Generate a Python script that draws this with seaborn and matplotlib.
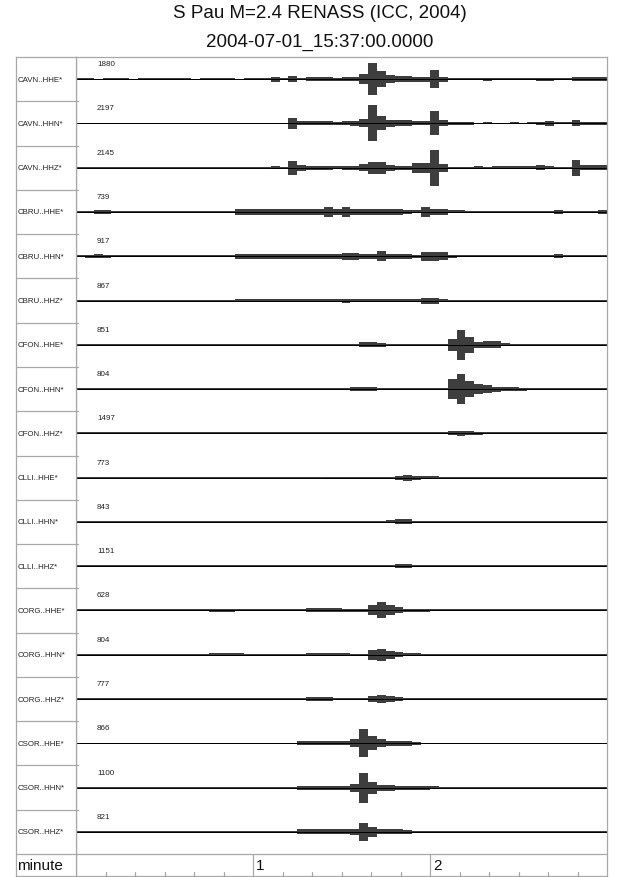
import numpy as np
import pandas as pd
import matplotlib
matplotlib.use("Agg")
import matplotlib.pyplot as plt
import seaborn as sns

sns.set_theme(style="white")
plt.rcParams['font.family'] = ['Liberation Sans', 'DejaVu Sans']

TITLE_1 = "S Pau M=2.4 RENASS (ICC, 2004)"
TITLE_2 = "2004-07-01_15:37:00.0000"
X_LABEL = "minute"
MINUTE_LABELS = ["1", "2"]

stations = ["CAVN..HHE*", "CAVN..HHN*", "CAVN..HHZ*",
            "CBRU..HHE*", "CBRU..HHN*", "CBRU..HHZ*",
            "CFON..HHE*", "CFON..HHN*", "CFON..HHZ*",
            "CLLI..HHE*", "CLLI..HHN*", "CLLI..HHZ*",
            "CORG..HHE*", "CORG..HHN*", "CORG..HHZ*",
            "CSOR..HHE*", "CSOR..HHN*", "CSOR..HHZ*"]
peak_counts = [1880, 2197, 2145, 739, 917, 867, 851, 804, 1497,
               773, 843, 1151, 628, 804, 777, 866, 1100, 821]

BIN_SECONDS = 3          # envelope read in 3-second bins, 0..180 s
# half-amplitude envelopes (screen-pixel scale)
env_cavn_hhe = [0.7, 0.7, 0.6, 0.7, 0.7, 0.7, 0.6, 0.7, 0.7, 0.7,
                0.7, 0.7, 0.7, 0.6, 0.7, 0.7, 0.7, 0.7, 0.6, 0.7,
                0.7, 0.8, 2.5, 0.8, 3.0, 1.2, 1.8, 1.8, 1.7, 1.6,
                1.7, 1.8, 5.0, 16.0, 8.0, 4.0, 3.2, 3.0, 2.5, 2.5,
                9.0, 2.5, 1.3, 1.2, 1.0, 0.9, 1.5, 1.0, 0.9, 1.0,
                1.0, 1.2, 1.5, 1.5, 1.0, 1.0, 2.0, 2.0, 2.0, 1.7]
env_cavn_hhn = [0.7, 0.7, 0.7, 0.7, 0.7, 0.7, 0.7, 0.7, 0.7, 0.7,
                0.7, 0.7, 0.7, 0.7, 0.7, 0.7, 0.7, 0.7, 0.7, 0.7,
                0.7, 0.7, 0.7, 0.7, 5.5, 2.0, 2.0, 2.0, 2.0, 1.9,
                2.0, 2.2, 4.0, 18.0, 7.0, 3.5, 3.0, 3.0, 2.0, 2.0,
                12.0, 3.0, 1.2, 1.2, 1.1, 0.9, 1.0, 0.9, 0.9, 1.0,
                0.9, 1.0, 1.1, 2.5, 1.0, 1.0, 3.0, 1.4, 1.4, 1.3]
env_cavn_hhz = [0.7, 0.7, 0.7, 0.7, 0.7, 0.7, 0.7, 0.7, 0.7, 0.7,
                0.7, 0.7, 0.7, 0.7, 0.7, 0.7, 0.7, 0.7, 0.7, 0.7,
                0.7, 0.7, 1.5, 0.8, 7.0, 3.0, 2.0, 2.0, 2.0, 1.8,
                2.0, 2.0, 3.5, 6.0, 6.0, 3.0, 2.0, 2.0, 5.0, 5.0,
                18.0, 4.0, 1.0, 1.0, 1.0, 1.2, 1.1, 1.2, 1.2, 1.3,
                1.2, 1.8, 2.5, 1.8, 1.0, 1.0, 8.0, 2.5, 2.5, 2.2]
env_cbru_hhe = [1.2, 1.2, 1.6, 2.3, 1.0, 1.0, 1.0, 1.0, 1.1, 1.0,
                1.0, 1.2, 1.0, 1.0, 1.0, 1.0, 1.1, 1.0, 2.6, 2.8,
                2.7, 2.8, 2.6, 2.7, 2.8, 2.7, 2.6, 2.8, 5.0, 3.0,
                5.0, 2.7, 2.7, 2.7, 2.7, 3.0, 2.7, 2.0, 1.5, 5.0,
                3.0, 3.0, 1.5, 1.5, 1.2, 1.2, 1.0, 1.0, 1.0, 1.0,
                1.0, 1.0, 1.0, 1.0, 2.0, 1.0, 1.0, 1.0, 1.0, 2.0]
env_cbru_hhn = [1.1, 1.3, 1.8, 1.5, 1.0, 1.0, 1.0, 1.0, 1.0, 1.0,
                1.0, 1.0, 1.0, 1.0, 1.0, 1.0, 1.0, 1.0, 2.3, 2.3,
                2.3, 2.3, 2.3, 2.3, 2.3, 2.3, 2.3, 2.3, 2.3, 2.3,
                3.5, 3.5, 2.5, 2.5, 5.0, 2.3, 2.3, 2.3, 1.5, 4.5,
                4.5, 4.0, 1.5, 1.0, 1.0, 1.0, 1.0, 1.0, 1.0, 1.0,
                1.0, 1.0, 1.0, 1.0, 1.8, 1.0, 1.0, 1.0, 1.0, 1.0]
env_cbru_hhz = [1.0, 1.0, 1.0, 1.0, 1.0, 1.0, 1.0, 1.0, 1.0, 1.0,
                1.0, 1.0, 1.0, 1.0, 1.0, 1.0, 1.0, 1.0, 1.5, 1.5,
                1.5, 1.5, 1.5, 1.5, 1.5, 1.5, 1.5, 1.5, 1.5, 1.5,
                2.0, 1.5, 1.5, 1.5, 1.5, 1.5, 1.5, 1.5, 1.3, 3.0,
                3.0, 1.5, 1.0, 1.0, 1.0, 1.0, 1.0, 1.0, 1.0, 1.0,
                1.0, 1.0, 1.0, 1.0, 1.0, 1.0, 1.0, 1.0, 1.0, 1.0]
env_cfon_hhe = [1.0, 1.0, 1.0, 1.0, 1.0, 1.0, 1.0, 1.0, 1.0, 1.0,
                1.0, 1.0, 1.0, 1.0, 1.0, 1.0, 1.0, 1.0, 1.0, 1.0,
                1.0, 1.0, 1.0, 1.0, 1.0, 1.0, 1.0, 1.0, 1.0, 1.0,
                1.0, 1.0, 2.5, 2.5, 2.2, 1.3, 1.3, 1.3, 1.3, 1.3,
                1.3, 1.3, 6.0, 15.0, 8.0, 3.0, 3.5, 3.5, 1.5, 1.0,
                1.0, 1.0, 1.0, 1.0, 1.0, 1.0, 1.0, 1.0, 1.0, 1.0]
env_cfon_hhn = [1.0, 1.0, 1.0, 1.0, 1.0, 1.0, 1.0, 1.0, 1.0, 1.0,
                1.0, 1.0, 1.0, 1.0, 1.0, 1.0, 1.0, 1.0, 1.0, 1.0,
                1.0, 1.0, 1.0, 1.0, 1.0, 1.0, 1.0, 1.0, 1.0, 1.0,
                1.0, 2.0, 2.0, 2.0, 1.2, 1.2, 1.2, 1.2, 1.2, 1.2,
                1.2, 1.2, 10.0, 15.0, 8.0, 5.0, 4.0, 2.5, 2.0, 2.0,
                1.5, 1.2, 1.2, 1.0, 1.0, 1.0, 1.0, 1.0, 1.0, 1.0]
env_cfon_hhz = [1.0, 1.0, 1.0, 1.0, 1.0, 1.0, 1.0, 1.0, 1.0, 1.0,
                1.0, 1.0, 1.0, 1.0, 1.0, 1.0, 1.0, 1.0, 1.0, 1.0,
                1.0, 1.0, 1.0, 1.0, 1.0, 1.0, 1.0, 1.0, 1.0, 1.0,
                1.0, 1.0, 1.0, 1.0, 1.0, 1.0, 1.0, 1.0, 1.0, 1.0,
                1.0, 1.0, 2.0, 2.5, 2.0, 1.8, 1.0, 1.0, 1.0, 1.0,
                1.0, 1.0, 1.0, 1.0, 1.0, 1.0, 1.0, 1.0, 1.0, 1.0]
env_clli_hhe = [0.7, 0.7, 0.7, 0.7, 0.7, 0.7, 0.7, 0.7, 0.7, 0.7,
                0.7, 0.7, 0.7, 0.7, 0.7, 0.7, 0.7, 0.7, 0.7, 0.7,
                0.7, 0.7, 0.7, 0.7, 0.7, 0.7, 0.7, 0.7, 1.0, 1.0,
                1.0, 1.0, 1.0, 1.0, 1.0, 1.0, 2.0, 3.0, 2.0, 1.2,
                1.2, 0.7, 0.7, 0.7, 0.7, 0.7, 0.7, 0.7, 0.7, 0.7,
                0.7, 0.7, 0.7, 0.7, 0.7, 0.7, 0.7, 0.7, 0.7, 0.7]
env_clli_hhn = [0.7, 0.7, 0.7, 0.7, 0.7, 0.7, 0.7, 0.7, 0.7, 0.7,
                0.7, 0.7, 0.7, 0.7, 0.7, 0.7, 0.7, 0.7, 0.7, 0.7,
                0.7, 0.7, 0.7, 0.7, 0.7, 0.7, 0.7, 0.7, 0.7, 0.7,
                0.9, 0.9, 0.9, 0.9, 0.9, 1.5, 2.5, 2.5, 1.3, 0.7,
                0.7, 0.7, 0.7, 0.7, 0.7, 0.7, 0.7, 0.7, 0.7, 0.7,
                0.7, 0.7, 0.7, 0.7, 0.7, 0.7, 0.7, 0.7, 0.7, 0.7]
env_clli_hhz = [0.8, 0.8, 0.8, 0.8, 0.8, 0.8, 0.8, 0.8, 0.8, 0.8,
                0.8, 0.8, 0.8, 0.8, 0.8, 0.8, 0.8, 0.8, 0.8, 0.8,
                0.8, 0.8, 0.8, 0.8, 0.8, 0.8, 0.8, 0.8, 0.8, 0.8,
                0.8, 0.8, 0.8, 0.8, 0.8, 0.8, 1.7, 1.7, 0.8, 0.8,
                0.8, 0.8, 0.8, 0.8, 0.8, 0.8, 0.8, 0.8, 0.8, 0.8,
                0.8, 0.8, 0.8, 0.8, 0.8, 0.8, 0.8, 0.8, 0.8, 0.8]
env_corg_hhe = [1.0, 1.0, 1.0, 1.0, 1.0, 1.0, 1.0, 1.0, 1.0, 1.0,
                1.0, 1.0, 1.0, 1.0, 1.0, 1.2, 1.2, 1.2, 1.0, 1.0,
                1.0, 1.0, 1.0, 1.0, 1.0, 1.0, 2.0, 2.0, 2.0, 2.0,
                1.2, 1.2, 1.2, 5.0, 8.0, 5.0, 3.0, 1.5, 1.5, 1.5,
                1.0, 1.0, 1.0, 1.0, 1.0, 1.0, 1.0, 1.0, 1.0, 1.0,
                1.0, 1.0, 1.0, 1.0, 1.0, 1.0, 1.0, 1.0, 1.0, 1.0]
env_corg_hhn = [1.0, 1.0, 1.0, 1.0, 1.0, 1.0, 1.0, 1.0, 1.0, 1.0,
                1.0, 1.0, 1.0, 1.0, 1.0, 1.3, 1.3, 1.3, 1.3, 1.0,
                1.0, 1.0, 1.0, 1.0, 1.0, 1.0, 1.5, 1.5, 1.5, 1.5,
                1.5, 1.2, 1.2, 5.0, 6.0, 4.0, 2.5, 1.5, 1.5, 1.0,
                1.0, 1.0, 1.0, 1.0, 1.0, 1.0, 1.0, 1.0, 1.0, 1.0,
                1.0, 1.0, 1.0, 1.0, 1.0, 1.0, 1.0, 1.0, 1.0, 1.0]
env_corg_hhz = [1.0, 1.0, 1.0, 1.0, 1.0, 1.0, 1.0, 1.0, 1.0, 1.0,
                1.0, 1.0, 1.0, 1.0, 1.0, 1.0, 1.0, 1.0, 1.0, 1.0,
                1.0, 1.0, 1.0, 1.0, 1.0, 1.0, 2.0, 2.0, 2.0, 1.2,
                1.2, 1.2, 1.2, 3.0, 4.0, 3.0, 2.0, 1.0, 1.0, 1.0,
                1.0, 1.0, 1.0, 1.0, 1.0, 1.0, 1.0, 1.0, 1.0, 1.0,
                1.0, 1.0, 1.0, 1.0, 1.0, 1.0, 1.0, 1.0, 1.0, 1.0]
env_csor_hhe = [0.8, 0.8, 0.8, 0.8, 0.8, 0.8, 0.8, 0.8, 0.8, 0.8,
                0.8, 0.8, 0.8, 0.8, 0.8, 0.8, 0.8, 0.8, 0.8, 0.8,
                0.8, 0.8, 0.8, 0.8, 0.8, 2.0, 2.0, 2.0, 2.0, 2.0,
                2.0, 4.0, 14.0, 7.0, 4.0, 2.3, 2.3, 2.3, 1.3, 0.8,
                0.8, 0.8, 0.8, 0.8, 0.8, 0.8, 0.8, 0.8, 0.8, 0.8,
                0.8, 0.8, 0.8, 0.8, 0.8, 0.8, 0.8, 0.8, 0.8, 0.8]
env_csor_hhn = [0.8, 0.8, 0.8, 0.8, 0.8, 0.8, 0.8, 0.8, 0.8, 0.8,
                0.8, 0.8, 0.8, 0.8, 0.8, 0.8, 0.8, 0.8, 0.8, 0.8,
                0.8, 0.8, 0.8, 0.8, 0.8, 2.0, 2.0, 2.0, 2.0, 2.0,
                2.0, 4.0, 15.0, 6.0, 3.0, 3.0, 2.0, 2.0, 2.0, 2.0,
                1.2, 0.8, 0.8, 0.8, 0.8, 0.8, 0.8, 0.8, 0.8, 0.8,
                0.8, 0.8, 0.8, 0.8, 0.8, 0.8, 0.8, 0.8, 0.8, 0.8]
env_csor_hhz = [0.8, 0.8, 0.8, 0.8, 0.8, 0.8, 0.8, 0.8, 0.8, 0.8,
                0.8, 0.8, 0.8, 0.8, 0.8, 0.8, 0.8, 0.8, 0.8, 0.8,
                0.8, 0.8, 0.8, 0.8, 0.8, 2.5, 2.5, 2.5, 2.5, 2.5,
                2.5, 3.0, 9.0, 5.0, 2.5, 2.5, 2.5, 1.8, 1.2, 0.8,
                0.8, 0.8, 0.8, 0.8, 0.8, 0.8, 0.8, 0.8, 0.8, 0.8,
                0.8, 0.8, 0.8, 0.8, 0.8, 0.8, 0.8, 0.8, 0.8, 0.8]

envelopes = [env_cavn_hhe, env_cavn_hhn, env_cavn_hhz,
             env_cbru_hhe, env_cbru_hhn, env_cbru_hhz,
             env_cfon_hhe, env_cfon_hhn, env_cfon_hhz,
             env_clli_hhe, env_clli_hhn, env_clli_hhz,
             env_corg_hhe, env_corg_hhn, env_corg_hhz,
             env_csor_hhe, env_csor_hhn, env_csor_hhz]

# ---------------- layout (pixels of the 640x878 canvas) ----------------
W, H = 640, 878
PX_LEFT, PX_COL, PX_RIGHT = 15.5, 76, 607
PX_TOP, PX_SEP, PX_BOT = 58, 855, 877
GRID = "#a8a8a8"

def fx(p):
    return p / W

def fy(p):
    return 1 - p / H

fig = plt.figure(figsize=(6.4, 8.78), dpi=100)
fig.patch.set_facecolor("white")

n = len(stations)
row_h = (PX_SEP - PX_TOP) / n
total_h = PX_BOT - PX_TOP
t_max = BIN_SECONDS * len(envelopes[0])

ax = fig.add_axes([fx(PX_COL), fy(PX_BOT), fx(PX_RIGHT) - fx(PX_COL),
                   fy(PX_TOP) - fy(PX_BOT)])
axl = fig.add_axes([fx(PX_LEFT), fy(PX_BOT), fx(PX_COL) - fx(PX_LEFT),
                    fy(PX_TOP) - fy(PX_BOT)])

for a in (ax, axl):
    a.set_ylim(total_h, 0)
    a.set_xticks([])
    a.set_yticks([])
    a.set_facecolor("white")
    for s in a.spines.values():
        s.set_color(GRID)
        s.set_linewidth(0.9)
        s.set_visible(True)
ax.set_xlim(0, t_max)
axl.set_xlim(0, 1)

for i, (name, cnt, env) in enumerate(zip(stations, peak_counts, envelopes)):
    base = row_h * (i + 0.5)
    env = np.asarray(env, dtype=float)
    edges = np.arange(len(env) + 1) * BIN_SECONDS
    amp = np.r_[env, env[-1]]
    ax.fill_between(edges, base - amp, base + amp, step="post",
                    color="#1c1c1c", linewidth=0, alpha=0.85)
    df = pd.DataFrame({"t": edges, "y": np.full(len(edges), base)})
    sns.lineplot(data=df, x="t", y="y", ax=ax, color="black",
                 linewidth=0.7, legend=False)
    ax.text((97 - PX_COL) / (PX_RIGHT - PX_COL) * t_max, base - 15.5,
            str(cnt), fontsize=5.8, ha="left", va="center", color="#222")
    axl.text(0.03, base, name, fontsize=5.7, ha="left", va="center",
             color="#222")

# row separators in the label column, small stubs into the trace panel
for k in range(1, n + 1):
    y = row_h * k
    axl.axhline(y, color=GRID, linewidth=0.9)
    ax.plot([0, 0.8], [y, y], color=GRID, linewidth=0.9)
sep = PX_SEP - PX_TOP
ax.axhline(sep, color=GRID, linewidth=0.9)

# minute axis row
for t in range(10, int(t_max), 10):
    if t % 60 == 0:
        ax.plot([t, t], [sep, total_h], color=GRID, linewidth=0.9)
    else:
        ax.plot([t, t], [total_h - 4.5, total_h], color=GRID, linewidth=0.9)
for m, lab in enumerate(MINUTE_LABELS, start=1):
    ax.text(60 * m + 1.0, (sep + total_h) / 2 + 0.5, lab, fontsize=11,
            ha="left", va="center", color="#111")
axl.text(0.03, (sep + total_h) / 2 + 0.5, X_LABEL, fontsize=11,
         ha="left", va="center", color="#111")

ax.set_xlabel("")
ax.set_ylabel("")

fig.text(0.5, fy(13), TITLE_1, ha="center", va="center", fontsize=13.5,
         color="#111")
fig.text(0.5, fy(42.5), TITLE_2, ha="center", va="center", fontsize=13.5,
         color="#111")

fig.savefig("out.png", dpi=100, facecolor="white")
